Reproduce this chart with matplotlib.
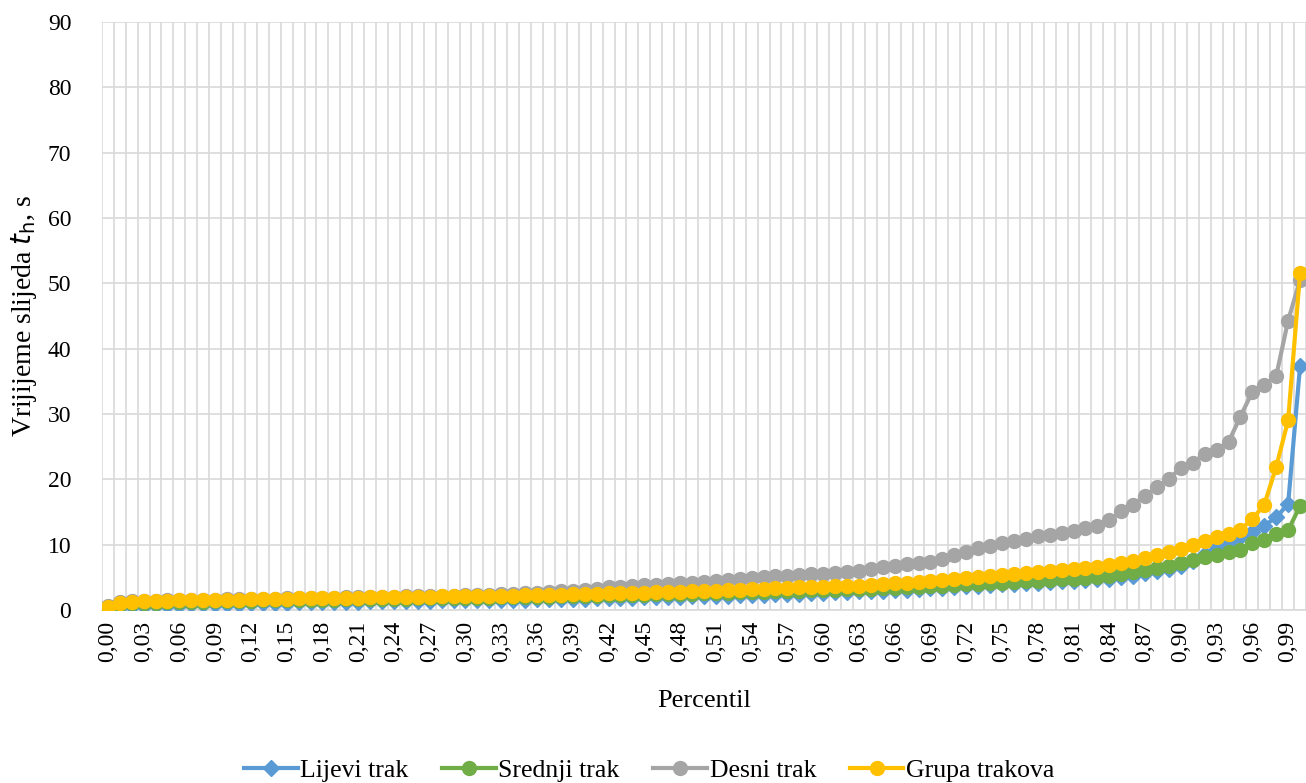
# -*- coding: utf-8 -*-
import matplotlib
matplotlib.use("Agg")

import numpy as np
import matplotlib.pyplot as plt

# percentili 0,00 .. 1,00
percentil = [i / 100 for i in range(101)]

lijevi = [0.0, 0.5, 0.6, 0.65, 0.7, 0.75, 0.8, 0.85, 0.85, 0.9,
          0.95, 0.95, 1.0, 1.05, 1.05, 1.1, 1.15, 1.15, 1.2, 1.2,
          1.25, 1.25, 1.3, 1.3, 1.35, 1.35, 1.4, 1.4, 1.45, 1.45,
          1.5, 1.5, 1.5, 1.55, 1.55, 1.6, 1.65, 1.65, 1.7, 1.75,
          1.75, 1.8, 1.85, 1.9, 1.9, 1.95, 2.0, 2.05, 2.05, 2.1,
          2.1, 2.15, 2.2, 2.25, 2.3, 2.35, 2.4, 2.45, 2.5, 2.55,
          2.6, 2.7, 2.75, 2.85, 2.9, 2.95, 3.0, 3.1, 3.2, 3.3,
          3.4, 3.5, 3.6, 3.7, 3.8, 3.9, 4.0, 4.1, 4.2, 4.3,
          4.4, 4.5, 4.6, 4.7, 4.8, 5.0, 5.2, 5.6, 5.9, 6.3,
          6.8, 7.5, 8.6, 9.6, 10.4, 11.2, 11.9, 12.9, 14.2, 16.2,
          37.3]

srednji = [0.3, 0.9, 1.0, 1.05, 1.1, 1.15, 1.2, 1.25, 1.25, 1.3,
           1.35, 1.35, 1.4, 1.45, 1.45, 1.5, 1.55, 1.55, 1.6, 1.6,
           1.65, 1.65, 1.7, 1.7, 1.75, 1.75, 1.8, 1.8, 1.85, 1.85,
           1.9, 1.9, 1.9, 1.95, 1.95, 2.0, 2.05, 2.05, 2.1, 2.15,
           2.15, 2.2, 2.25, 2.3, 2.3, 2.35, 2.4, 2.45, 2.45, 2.5,
           2.55, 2.6, 2.65, 2.7, 2.75, 2.8, 2.85, 2.9, 2.95, 3.0,
           3.05, 3.1, 3.15, 3.2, 3.25, 3.3, 3.35, 3.45, 3.5, 3.6,
           3.7, 3.8, 3.9, 4.0, 4.1, 4.2, 4.3, 4.4, 4.5, 4.6,
           4.7, 4.8, 4.95, 5.1, 5.2, 5.5, 5.85, 6.1, 6.4, 6.75,
           7.15, 7.65, 8.05, 8.4, 8.8, 9.2, 10.2, 10.7, 11.6, 12.2,
           15.9]

desni = [0.6, 1.2, 1.3, 1.35, 1.4, 1.45, 1.5, 1.55, 1.55, 1.6,
         1.65, 1.65, 1.7, 1.75, 1.75, 1.8, 1.85, 1.85, 1.9, 1.9,
         1.95, 1.95, 2.0, 2.0, 2.05, 2.1, 2.1, 2.15, 2.2, 2.2,
         2.25, 2.3, 2.35, 2.4, 2.5, 2.55, 2.65, 2.75, 2.85, 2.95,
         3.1, 3.25, 3.45, 3.55, 3.65, 3.75, 3.85, 3.95, 4.05, 4.15,
         4.3, 4.45, 4.6, 4.8, 4.95, 5.05, 5.15, 5.25, 5.35, 5.45,
         5.55, 5.65, 5.75, 5.9, 6.3, 6.6, 6.75, 7.0, 7.2, 7.4,
         7.8, 8.4, 8.9, 9.5, 9.75, 10.2, 10.5, 10.85, 11.25, 11.5,
         11.8, 12.1, 12.6, 12.9, 13.7, 15.1, 16.1, 17.5, 18.8, 20.1,
         21.7, 22.5, 23.9, 24.5, 25.7, 29.6, 33.4, 34.5, 35.8, 44.3,
         50.5]

grupa = [0.4, 1.1, 1.25, 1.3, 1.35, 1.4, 1.45, 1.5, 1.5, 1.55,
         1.6, 1.6, 1.65, 1.7, 1.7, 1.75, 1.8, 1.8, 1.85, 1.85,
         1.9, 1.9, 1.95, 1.95, 2.0, 2.0, 2.05, 2.05, 2.1, 2.1,
         2.1, 2.15, 2.15, 2.2, 2.2, 2.25, 2.3, 2.3, 2.35, 2.4,
         2.45, 2.5, 2.55, 2.6, 2.6, 2.65, 2.7, 2.75, 2.8, 2.85,
         2.9, 2.95, 3.05, 3.1, 3.2, 3.25, 3.3, 3.4, 3.45, 3.5,
         3.55, 3.6, 3.65, 3.7, 3.8, 3.9, 4.05, 4.2, 4.35, 4.5,
         4.6, 4.7, 4.85, 5.0, 5.2, 5.35, 5.5, 5.7, 5.85, 6.0,
         6.1, 6.25, 6.4, 6.6, 6.95, 7.2, 7.5, 7.9, 8.4, 8.8,
         9.3, 10.0, 10.6, 11.1, 11.7, 12.3, 13.9, 16.1, 21.9, 29.0,
         51.5]

serije = [("Lijevi trak", lijevi, "#5B9BD5", "D", 8),
          ("Srednji trak", srednji, "#70AD47", "o", 10),
          ("Desni trak", desni, "#A5A5A5", "o", 10),
          ("Grupa trakova", grupa, "#FFC000", "o", 10)]

plt.rcParams['font.family'] = ['Liberation Serif', 'DejaVu Serif']

fig = plt.figure(figsize=(13.06, 7.83), dpi=100)
ax = fig.add_axes([0.078, 0.221, 0.922, 0.751])

x = np.arange(len(percentil))
for naziv, y, boja, marker, ms in serije:
    ax.plot(x, y, color=boja, linewidth=3, marker=marker, markersize=ms,
            label=naziv, zorder=3)

# mreza
ax.set_xlim(-0.5, len(percentil) - 0.5)
ax.set_ylim(0, 90)
ax.set_yticks(np.arange(0, 91, 10))
ax.set_xticks(np.arange(-0.5, len(percentil), 1), minor=True)
ax.grid(True, which='minor', axis='x', color='#D9D9D9', linewidth=1.2)
ax.grid(True, which='major', axis='y', color='#D9D9D9', linewidth=1.2)
ax.set_axisbelow(True)

oznake = [("%.2f" % p).replace('.', ',') for p in percentil]
ax.set_xticks(x[::3])
ax.set_xticklabels(oznake[::3], rotation=90)
ax.tick_params(axis='both', which='both', length=0, labelsize=17)
ax.tick_params(axis='y', pad=22)
ax.tick_params(axis='x', pad=8)

for s in ['top', 'right', 'left']:
    ax.spines[s].set_visible(False)
ax.spines['bottom'].set_color('#D9D9D9')
ax.spines['bottom'].set_linewidth(1.2)

ax.set_xlabel('Percentil', fontsize=19, labelpad=20)
ax.set_ylabel('Vrijijeme slijeda $\\mathit{t}_\\mathrm{h}$, s', fontsize=20, labelpad=6)

fig.legend(loc='lower center', bbox_to_anchor=(0.497, -0.028), ncol=4,
           frameon=False, fontsize=18.5, handlelength=2.1, columnspacing=1.3,
           handletextpad=0.1)

plt.savefig("out.png", dpi=100)
